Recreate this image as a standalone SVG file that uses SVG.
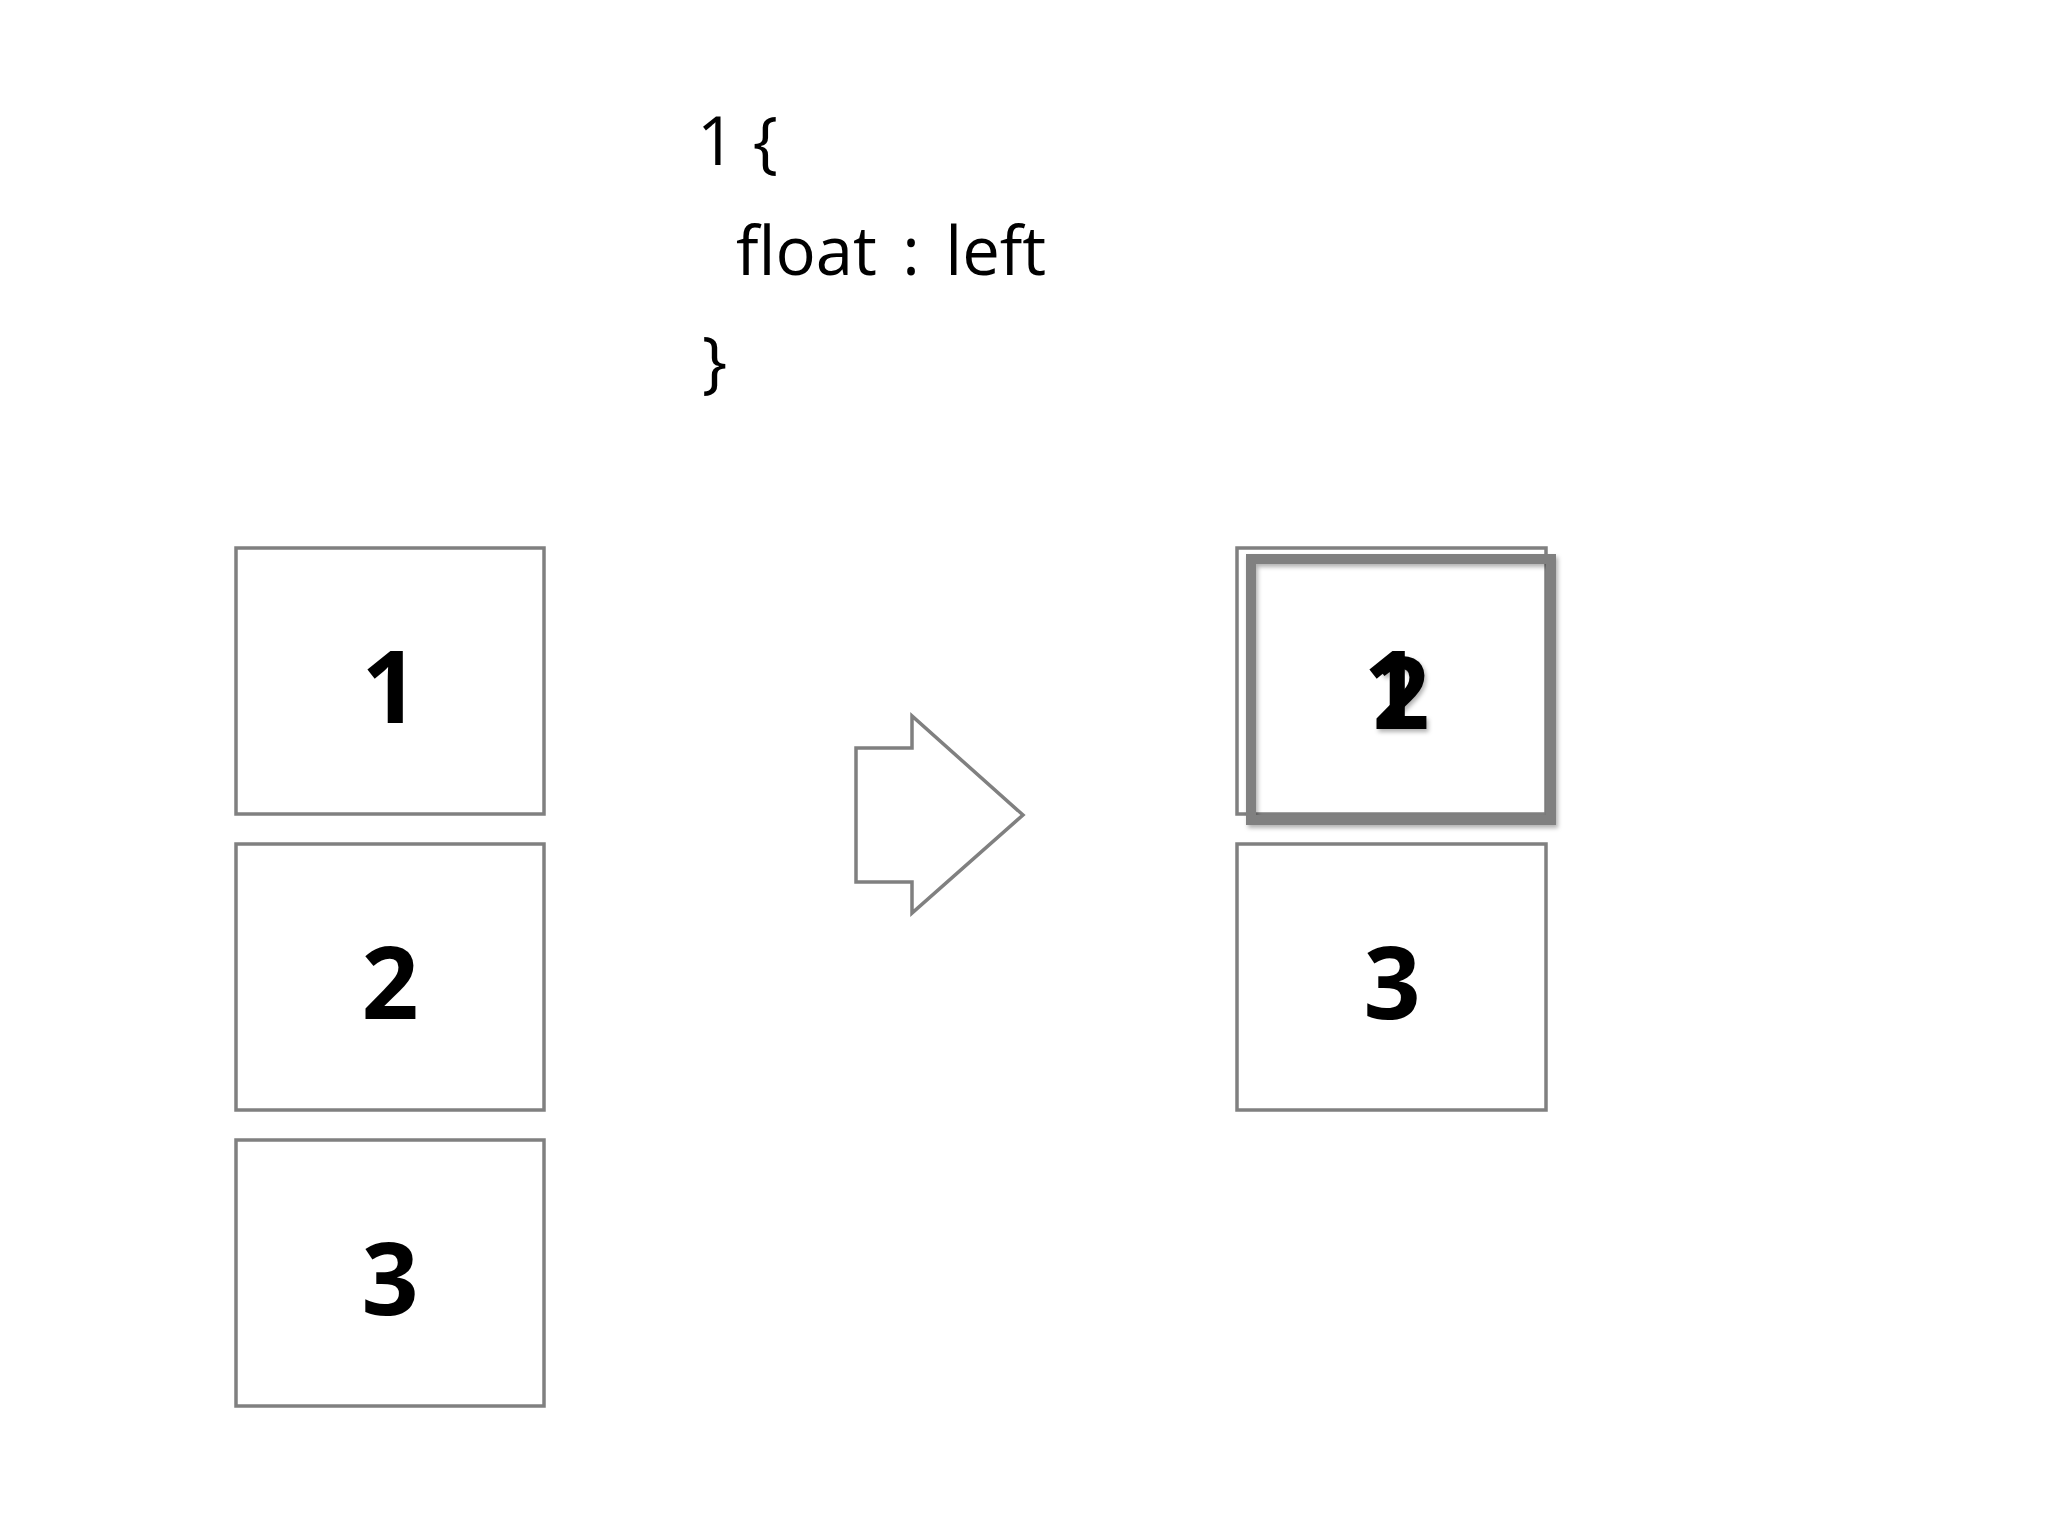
<svg xmlns="http://www.w3.org/2000/svg" width="2048" height="1536" viewBox="0 0 2048 1536">
<style>
.box{fill:#fff;stroke:#808080;stroke-width:3.5}
.thick{fill:none;stroke:#808080;stroke-width:10}
.num{font-family:"Open Sans","Liberation Sans",sans-serif;font-weight:700;font-size:100px;fill:#000;text-anchor:middle}
.code{font-family:"Open Sans","Liberation Sans",sans-serif;font-weight:500;font-size:67px;fill:#000}
.ws{word-spacing:8px}
</style>
<defs>
<filter id="sh" x="-10%" y="-10%" width="130%" height="130%">
<feDropShadow dx="2" dy="3" stdDeviation="2" flood-color="#000" flood-opacity="0.3"/>
</filter>
</defs>
<rect width="2048" height="1536" fill="#fff"/>
<g id="code">
<text class="code" x="697" y="165">1 {</text>
<text class="code ws" x="736" y="275">float : left</text>
<text class="code" x="702" y="385">}</text>
</g>
<g id="left-1"><rect class="box" x="236" y="548" width="308" height="266"/><text class="num" x="390" y="723">1</text></g>
<g id="left-2"><rect class="box" x="236" y="844" width="308" height="266"/><text class="num" x="390" y="1019">2</text></g>
<g id="left-3"><rect class="box" x="236" y="1140" width="308" height="266"/><text class="num" x="390" y="1315">3</text></g>
<g id="arrow"><path class="box" d="M856,748 H912 V716 L1023,815 L912,913 V882 H856 Z"/></g>
<g id="right-1"><rect class="box" x="1237" y="548" width="309" height="266"/><text class="num" x="1392" y="723">1</text></g>
<g id="right-2" filter="url(#sh)"><rect class="thick" x="1251" y="559" width="300" height="261"/><text class="num" x="1401" y="729">2</text></g>
<g id="right-3"><rect class="box" x="1237" y="844" width="309" height="266"/><text class="num" x="1392" y="1019">3</text></g>
</svg>
